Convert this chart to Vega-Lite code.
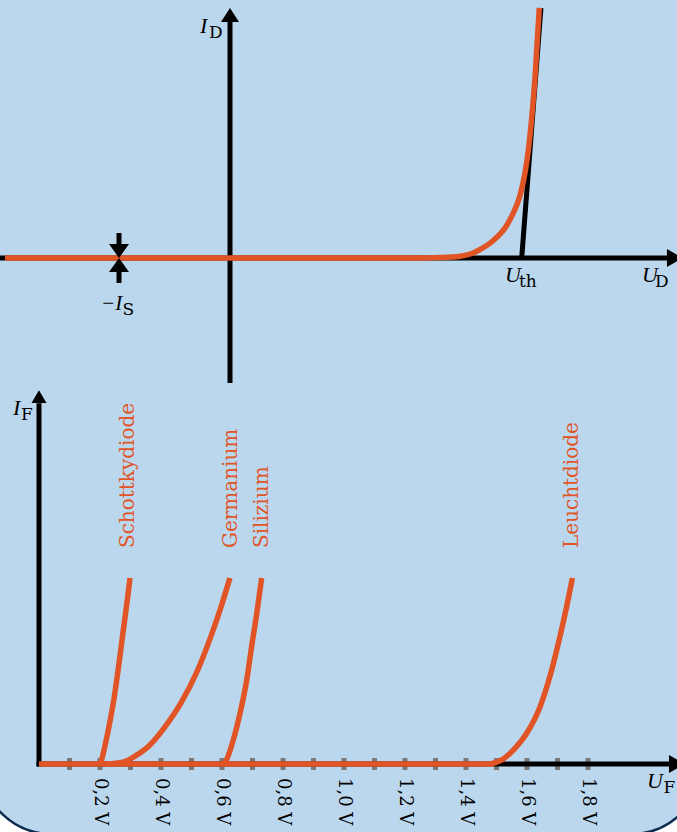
{
  "$schema": "https://vega.github.io/schema/vega-lite/v6.json",
  "background": "white",
  "padding": 0,
  "spacing": 0,
  "bounds": "flush",
  "autosize": {"type": "pad"},
  "config": {"view": {"stroke": null}, "font": "DejaVu Serif", "concat": {"spacing": 0}},
  "vconcat": [
    {
      "width": 677,
      "height": 383,
      "view": {"fill": "#BBD7EE", "stroke": null},
      "encoding": {
        "x": {"field": "x", "type": "quantitative", "scale": {"domain": [-0.5533, 1.0753], "nice": false, "zero": false}, "axis": null},
        "y": {"field": "y", "type": "quantitative", "scale": {"domain": [-50, 103.2], "nice": false, "zero": false}, "axis": null}
      },
      "layer": [
        {
          "data": {"values": [
            {"x": -0.5533, "x2": 1.06, "y": 0, "y2": 0},
            {"x": 0, "x2": 0, "y": -50, "y2": 96},
            {"x": 0.7017, "x2": 0.748, "y": 0, "y2": 100},
            {"x": -0.267, "x2": -0.267, "y": 10, "y2": 4},
            {"x": -0.267, "x2": -0.267, "y": -4, "y2": -10}
          ]},
          "mark": {"type": "rule", "color": "#000000", "strokeWidth": 5, "clip": true},
          "encoding": {"x2": {"field": "x2"}, "y2": {"field": "y2"}}
        },
        {
          "data": {"values": [
            {"x": -0.5413, "y": 0},
            {"x": 0.3, "y": 0},
            {"x": 0.45, "y": 0.02},
            {"x": 0.5364, "y": 0.4},
            {"x": 0.5845, "y": 2.0},
            {"x": 0.6014, "y": 3.4},
            {"x": 0.6334, "y": 7.0},
            {"x": 0.6656, "y": 13.0},
            {"x": 0.6815, "y": 18},
            {"x": 0.6976, "y": 25},
            {"x": 0.7096, "y": 34},
            {"x": 0.7176, "y": 43},
            {"x": 0.7258, "y": 56},
            {"x": 0.7337, "y": 72},
            {"x": 0.744, "y": 100}
          ]},
          "mark": {"type": "line", "color": "#E05426", "strokeWidth": 5.5, "interpolate": "monotone", "clip": true}
        },
        {
          "data": {"values": [{"x": 0, "y": 100}]},
          "mark": {"type": "point", "shape": "M-1,1.556L0,0L1,1.556Z", "size": 324, "filled": true, "opacity": 1, "color": "#000000", "strokeWidth": 0, "clip": true}
        },
        {
          "data": {"values": [{"x": 1.0897, "y": 0}]},
          "mark": {"type": "point", "shape": "M0,0L-1.78,-1L-1.78,1Z", "size": 324, "filled": true, "opacity": 1, "color": "#000000", "strokeWidth": 0, "clip": true}
        },
        {
          "data": {"values": [{"x": -0.267, "y": 0}]},
          "mark": {"type": "point", "shape": "M-1,-1.4L0,0L1,-1.4Z", "size": 400, "filled": true, "opacity": 1, "color": "#000000", "strokeWidth": 0, "clip": true}
        },
        {
          "data": {"values": [{"x": -0.267, "y": 0}]},
          "mark": {"type": "point", "shape": "M-1,1.4L0,0L1,1.4Z", "size": 400, "filled": true, "opacity": 1, "color": "#000000", "strokeWidth": 0, "clip": true}
        },
        {
          "data": {"values": [
            {"x": -0.0722, "y": 90, "t": "I"},
            {"x": 0.6615, "y": -9.6, "t": "U"},
            {"x": 0.9911, "y": -9.6, "t": "U"}
          ]},
          "mark": {"type": "text", "align": "left", "baseline": "alphabetic", "font": "Liberation Serif", "fontSize": 22, "fontStyle": "italic", "color": "#000000"},
          "encoding": {"text": {"field": "t"}}
        },
        {
          "data": {"values": [
            {"x": -0.3103, "y": -20.8, "t": "−I"}
          ]},
          "mark": {"type": "text", "align": "left", "baseline": "alphabetic", "font": "Liberation Serif", "fontSize": 21, "fontStyle": "italic", "color": "#000000"},
          "encoding": {"text": {"field": "t"}}
        },
        {
          "data": {"values": [
            {"x": -0.0505, "y": 87.9, "t": "D"},
            {"x": -0.2586, "y": -22.8, "t": "S"},
            {"x": 0.6952, "y": -11.6, "t": "th"},
            {"x": 1.0224, "y": -11.6, "t": "D"}
          ]},
          "mark": {"type": "text", "align": "left", "baseline": "alphabetic", "fontSize": 17, "color": "#000000"},
          "encoding": {"text": {"field": "t"}}
        }
      ]
    },
    {
      "width": 677,
      "height": 449,
      "view": {"stroke": null},
      "encoding": {
        "x": {"field": "x", "type": "quantitative", "scale": {"domain": [-0.12787, 2.0918], "nice": false, "zero": false}, "axis": null},
        "y": {"field": "y", "type": "quantitative", "scale": {"domain": [-3.656, 20.484], "nice": false, "zero": false}, "axis": null}
      },
      "layer": [
        {
          "data": {"values": [{"x": -0.1934, "x2": 2.177, "y": -3.763, "y2": 21.56}]},
          "mark": {"type": "rect", "fill": "#BBD7EE", "stroke": "#0E2C4F", "strokeWidth": 2.5, "cornerRadiusBottomLeft": 72, "cornerRadiusBottomRight": 72, "clip": true},
          "encoding": {"x2": {"field": "x2"}, "y2": {"field": "y2"}}
        },
        {
          "data": {"values": [
            {"x": 0.1, "y": 0}, {"x": 0.2, "y": 0}, {"x": 0.3, "y": 0}, {"x": 0.4, "y": 0},
            {"x": 0.5, "y": 0}, {"x": 0.6, "y": 0}, {"x": 0.7, "y": 0}, {"x": 0.8, "y": 0},
            {"x": 0.9, "y": 0}, {"x": 1.0, "y": 0}, {"x": 1.1, "y": 0}, {"x": 1.2, "y": 0},
            {"x": 1.3, "y": 0}, {"x": 1.4, "y": 0}, {"x": 1.5, "y": 0}, {"x": 1.6, "y": 0},
            {"x": 1.7, "y": 0}, {"x": 1.8, "y": 0}
          ]},
          "mark": {"type": "tick", "orient": "vertical", "size": 12, "thickness": 5, "color": "#7A7A7A", "opacity": 1, "clip": true}
        },
        {
          "data": {"values": [
            {"x": -0.008, "x2": 2.09, "y": 0, "y2": 0},
            {"x": 0, "x2": 0, "y": -0.13, "y2": 19.4}
          ]},
          "mark": {"type": "rule", "color": "#000000", "strokeWidth": 5, "clip": true},
          "encoding": {"x2": {"field": "x2"}, "y2": {"field": "y2"}}
        },
        {
          "data": {"values": [
            {"s": "base", "x": 0, "y": 0}, {"s": "base", "x": 1.49, "y": 0},
            {"s": "schottky", "x": 0.195, "y": 0}, {"s": "schottky", "x": 0.2033, "y": 0.12}, {"s": "schottky", "x": 0.2131, "y": 0.75},
            {"s": "schottky", "x": 0.2272, "y": 1.83}, {"s": "schottky", "x": 0.247, "y": 3.62}, {"s": "schottky", "x": 0.2623, "y": 5.41},
            {"s": "schottky", "x": 0.2764, "y": 7.2}, {"s": "schottky", "x": 0.291, "y": 9.0}, {"s": "schottky", "x": 0.2984, "y": 10.0},
            {"s": "germanium", "x": 0.22, "y": 0}, {"s": "germanium", "x": 0.275, "y": 0.1}, {"s": "germanium", "x": 0.312, "y": 0.4},
            {"s": "germanium", "x": 0.362, "y": 1.0}, {"s": "germanium", "x": 0.413, "y": 2.0}, {"s": "germanium", "x": 0.466, "y": 3.3},
            {"s": "germanium", "x": 0.519, "y": 5.0}, {"s": "germanium", "x": 0.56, "y": 6.7}, {"s": "germanium", "x": 0.594, "y": 8.3},
            {"s": "germanium", "x": 0.626, "y": 10.0},
            {"s": "silizium", "x": 0.598, "y": 0}, {"s": "silizium", "x": 0.61, "y": 0.1}, {"s": "silizium", "x": 0.637, "y": 1.29},
            {"s": "silizium", "x": 0.659, "y": 2.72}, {"s": "silizium", "x": 0.681, "y": 4.5}, {"s": "silizium", "x": 0.697, "y": 6.3},
            {"s": "silizium", "x": 0.714, "y": 8.1}, {"s": "silizium", "x": 0.73, "y": 10.0},
            {"s": "led", "x": 1.48, "y": 0}, {"s": "led", "x": 1.4896, "y": 0.04}, {"s": "led", "x": 1.52, "y": 0.25},
            {"s": "led", "x": 1.555, "y": 0.75}, {"s": "led", "x": 1.599, "y": 1.65}, {"s": "led", "x": 1.643, "y": 3.08},
            {"s": "led", "x": 1.675, "y": 4.7}, {"s": "led", "x": 1.708, "y": 6.85}, {"s": "led", "x": 1.73, "y": 8.46},
            {"s": "led", "x": 1.749, "y": 10.0}
          ]},
          "mark": {"type": "line", "color": "#E05426", "strokeWidth": 5.5, "interpolate": "monotone", "clip": true},
          "encoding": {"detail": {"field": "s", "type": "nominal"}}
        },
        {
          "data": {"values": [{"x": 0, "y": 20.1}]},
          "mark": {"type": "point", "shape": "M-1,1.73L0,0L1,1.73Z", "size": 225, "filled": true, "opacity": 1, "color": "#000000", "strokeWidth": 0, "clip": true}
        },
        {
          "data": {"values": [{"x": 2.118, "y": 0}]},
          "mark": {"type": "point", "shape": "M0,0L-1.78,-1L-1.78,1Z", "size": 324, "filled": true, "opacity": 1, "color": "#000000", "strokeWidth": 0, "clip": true}
        },
        {
          "data": {"values": [
            {"x": 0.2918, "y": 11.61, "t": "Schottkydiode"},
            {"x": 0.6295, "y": 11.61, "t": "Germanium"},
            {"x": 0.7302, "y": 11.61, "t": "Silizium"},
            {"x": 1.749, "y": 11.61, "t": "Leuchtdiode"}
          ]},
          "mark": {"type": "text", "angle": 270, "align": "left", "baseline": "middle", "fontSize": 20, "color": "#E05426"},
          "encoding": {"text": {"field": "t"}}
        },
        {
          "data": {"values": [
            {"x": 0.2, "y": -0.753, "t": "0,2 V"},
            {"x": 0.4, "y": -0.753, "t": "0,4 V"},
            {"x": 0.6, "y": -0.753, "t": "0,6 V"},
            {"x": 0.8, "y": -0.753, "t": "0,8 V"},
            {"x": 1.0, "y": -0.753, "t": "1,0 V"},
            {"x": 1.2, "y": -0.753, "t": "1,2 V"},
            {"x": 1.4, "y": -0.753, "t": "1,4 V"},
            {"x": 1.6, "y": -0.753, "t": "1,6 V"},
            {"x": 1.8, "y": -0.753, "t": "1,8 V"}
          ]},
          "mark": {"type": "text", "angle": 90, "align": "left", "baseline": "middle", "fontSize": 18, "color": "#000000"},
          "encoding": {"text": {"field": "t"}}
        },
        {
          "data": {"values": [
            {"x": -0.0852, "y": 18.76, "t": "I"},
            {"x": 1.9934, "y": -1.29, "t": "U"}
          ]},
          "mark": {"type": "text", "align": "left", "baseline": "alphabetic", "font": "Liberation Serif", "fontSize": 22, "fontStyle": "italic", "color": "#000000"},
          "encoding": {"text": {"field": "t"}}
        },
        {
          "data": {"values": [
            {"x": -0.059, "y": 18.49, "t": "F"},
            {"x": 2.0475, "y": -1.559, "t": "F"}
          ]},
          "mark": {"type": "text", "align": "left", "baseline": "alphabetic", "fontSize": 17, "color": "#000000"},
          "encoding": {"text": {"field": "t"}}
        }
      ]
    }
  ]
}
